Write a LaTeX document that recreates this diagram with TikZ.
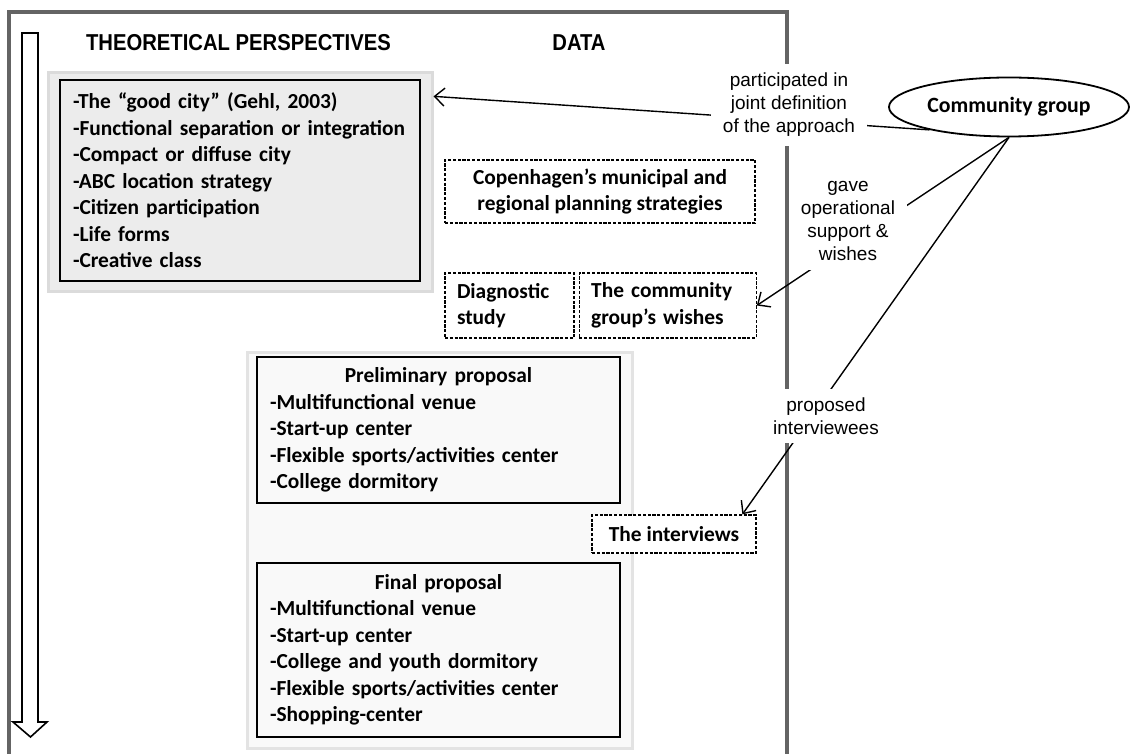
\documentclass[tikz,border=0pt]{standalone}
\usepackage{fontspec}
\setmainfont{Carlito}
\newfontfamily\arialfont{Liberation Sans}
\newfontfamily\headfont[FakeStretch=0.88]{Liberation Sans}
\usepackage{xcolor}
\usetikzlibrary{arrows.meta,positioning,shapes.geometric}
\definecolor{framegray}{HTML}{646464}

\begin{document}
\begin{tikzpicture}[
  x=0.5pt, y=-0.5pt,
  font=\fontsize{10.7}{13.25}\selectfont\bfseries,
  frame/.style={draw=framegray, line width=2pt},
  head/.style={font=\headfont\bfseries\fontsize{11.5}{14}\selectfont},
  panel/.style={line width=1.5pt, inner sep=0pt},
  listbox/.style={draw, line width=0.8pt, align=left, inner xsep=6.5pt, inner ysep=0pt},
  dbox/.style={draw, dash pattern=on 1.6pt off 0.8pt, line width=0.6pt, fill=white, inner xsep=6pt, inner ysep=0pt},
  lbl/.style={font=\arialfont\fontsize{9.5}{11.5}\selectfont, fill=white, align=center, inner xsep=6pt, inner ysep=4.5pt},
  arr/.style={-{Straight Barb[length=5pt,width=9pt]}, line width=0.7pt}
]
\useasboundingbox (0,0) rectangle (1131,754);
\draw[frame] (9,754) -- (9,12) -- (787,12) -- (787,754);
\draw[line width=0.8pt, fill=white] (22,33) -- (38,33) -- (38,722) -- (47,722) -- (30.5,737) -- (13,722) -- (22,722) -- cycle;

\node[head] (thp) at (238.5,43) {THEORETICAL PERSPECTIVES};
\node[head] (dat) at (579,43) {DATA};

\node[panel, draw=gray!28, fill=gray!15, minimum width=192pt, minimum height=109.5pt] (thframe) at (240,182.5) {};
\node[listbox, fill=gray!15, text width=167pt, minimum height=100.5pt] (theory) at (240,180.5) {-The “good city” (Gehl, 2003)\\-Functional separation or integration\\-Compact or diffuse city\\-ABC location strategy\\-Citizen participation\\-Life forms\\-Creative class};

\node[panel, draw=gray!22, fill=gray!5, minimum width=192.5pt, minimum height=197.5pt] (props) at (439.5,550.5) {};
\node[listbox, fill=gray!5, text width=168.5pt, minimum height=73pt] (prelim) at (438.5,430) {\hfill Preliminary proposal\hfill\null\\-Multifunctional venue\\-Start-up center\\-Flexible sports/activities center\\-College dormitory};
\node[listbox, fill=gray!5, text width=168.5pt, minimum height=87pt] (final) at (438.5,650) {\hfill Final proposal\hfill\null\\-Multifunctional venue\\-Start-up center\\-College and youth dormitory\\-Flexible sports/activities center\\-Shopping-center};

\node[dbox, align=center, minimum width=155pt, minimum height=31.5pt] (plan) at (600,191.5) {Copenhagen’s municipal and\\regional planning strategies};
\node[dbox, align=left, text width=52.5pt, minimum height=32.5pt] (diag) at (509.5,305.5) {Diagnostic\\study};
\node[dbox, align=left, text width=76.5pt, minimum height=32.5pt, right=2pt of diag] (wishes) {The community\\group’s wishes};
\node[dbox, minimum width=82pt, minimum height=19pt] (interviews) at (674,534) {The interviews};

\node[ellipse, draw, line width=0.9pt, minimum width=120pt, minimum height=29.5pt, inner sep=0pt, font=\fontsize{10.9}{13}\selectfont\bfseries] (cg) at (1009,107) {Community group};

\draw[arr] (cg.196.6) -- (thframe.24.5);
\draw[arr] (cg.south) -- (wishes.east);
\draw[arr] (cg.south) -- (interviews.16.8);

\node[lbl] (part) at (789,105) {participated in\\joint definition\\of the approach};
\node[lbl] (gave) at (848,221) {gave\\operational\\support \&\\wishes};
\node[lbl] (prop) at (826,416) {proposed\\interviewees};
\end{tikzpicture}
\end{document}
